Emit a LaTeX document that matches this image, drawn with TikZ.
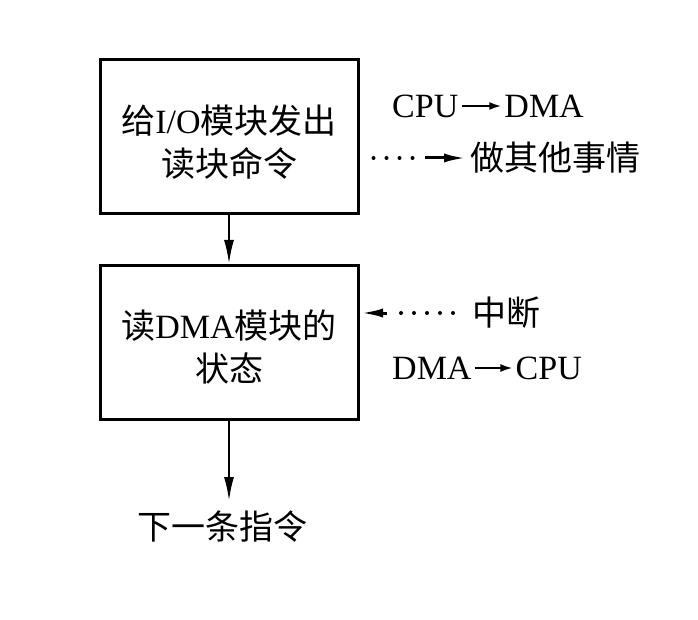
\documentclass[tikz,border=0pt]{standalone}
\usepackage{fontspec}
\setmainfont{Liberation Serif}
\newfontfamily\cjk{Noto Sans CJK SC}
\newcommand\zhs[1]{{\cjk #1}}
\usetikzlibrary{arrows.meta,calc}
\begin{document}
\begin{tikzpicture}[x=1pt,y=-1pt,
  box/.style={draw,line width=3pt,minimum width=258pt,minimum height=154pt,inner sep=0pt},
  boxtxt/.style={align=center,inner sep=0pt,font=\fontsize{34}{43}\selectfont},
  lbl/.style={inner sep=0pt,font=\fontsize{34}{40}\selectfont},
  flow/.style={line width=2.2pt,-{Latex[length=24pt,width=10pt]}},
  dots/.style={line width=4pt,line cap=round,dash pattern=on 0pt off 13pt},
  tip/.style={line width=3pt,-{Latex[length=22pt,width=9pt]}},
  small/.style={line width=2pt,-{Latex[length=12pt,width=8pt]}}]
  \useasboundingbox (0,0) rectangle (698,620);

  % the two steps of the DMA transfer
  \node[box] (b1) at (229,137) {};
  \node[boxtxt] (t1) at ($(b1.center)+(0,5)$) {\zhs{给}I/O\zhs{模块发出}\\\zhs{读块命令}};
  \node[box] (b2) at (229,342.5) {};
  \node[boxtxt] (t2) at ($(b2.center)+(0,4)$) {\zhs{读}DMA\zhs{模块的}\\\zhs{状态}};
  \node[lbl,anchor=center] (nxt) at (222,527) {\zhs{下一条指令}};

  \draw[flow] (b1.south) -- (b2.north);
  \draw[flow,shorten >=10pt] (b2.south) -- (b2.south |- nxt.north);

  % CPU hands the transfer over and carries on
  \node[lbl,anchor=west] (cpu1) at (392,106) {CPU};
  \node[lbl,anchor=east] (dma1) at (584,106) {DMA};
  \draw[small,shorten <=3pt,shorten >=3pt] (cpu1.east) -- (dma1.west);
  \node[lbl,anchor=west] (oth) at (470,158) {\zhs{做其他事情}};
  \coordinate (s1) at ($(oth.west)+(-45,0)$);
  \draw[dots] ($(b1.east |- oth.west)+(14,0)$) -- (s1);
  \draw[tip,shorten >=4pt] (s1) -- (oth.west);

  % DMA interrupts the CPU when done
  \node[lbl,anchor=west] (irq) at (472,313) {\zhs{中断}};
  \node[lbl,anchor=west] (dma2) at (392,368) {DMA};
  \node[lbl,anchor=east] (cpu2) at (582,368) {CPU};
  \draw[small,shorten <=3pt,shorten >=3pt] (dma2.east) -- (cpu2.west);
  \coordinate (s2) at ($(irq.west)+(-85,0)$);
  \draw[dots] ($(irq.west)+(-19,0)$) -- ($(irq.west)+(-72,0)$);
  \draw[tip,shorten >=1.5pt] (s2) -- (b2.east |- irq.west);
\end{tikzpicture}
\end{document}
